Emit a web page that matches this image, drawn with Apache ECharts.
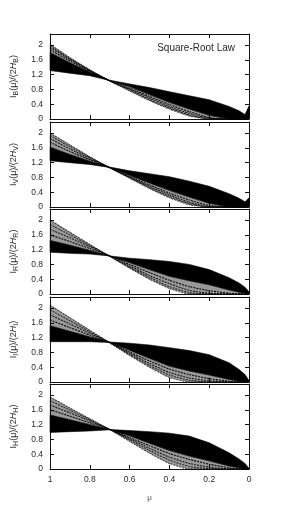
<!DOCTYPE html>
<html>
<head>
<meta charset="utf-8">
<script src="https://cdn.jsdelivr.net/npm/echarts@6/dist/echarts.min.js"></script>
<style>html,body{margin:0;padding:0;background:#fff}#c{width:300px;height:506px}</style>
</head>
<body>
<div id="c"></div>
<script>
// mu grid (x values)
const mu = [1, 0.9, 0.8, 0.7, 0.6, 0.5, 0.4, 0.3, 0.2, 0.1, 0.05, 0.02, 0];
// x tick labels / y tick labels
const xTicks = [1, 0.8, 0.6, 0.4, 0.2, 0];
const yTicks = [0, 0.4, 0.8, 1.2, 1.6, 2];
const bands = ['B', 'V', 'R', 'I', 'H'];

// Panel B
const bFlat = [1.31, 1.24, 1.17, 1.05, 0.95, 0.85, 0.74, 0.63, 0.52, 0.34, 0.22, 0.12, 0.35];
const bCore = [1.80, 1.52, 1.27, 1.04, 0.88, 0.66, 0.45, 0.27, 0.10, 0, 0, 0, 0];
const bE1 = [1.87, 1.57, 1.29, 1.035, 0.84, 0.61, 0.39, 0.20, 0.04, 0, 0, 0, 0];
const bE2 = [1.93, 1.61, 1.31, 1.035, 0.81, 0.57, 0.34, 0.15, 0.02, 0, 0, 0, 0];
const bE3 = [1.97, 1.63, 1.32, 1.03, 0.79, 0.53, 0.30, 0.11, 0, 0, 0, 0, 0];
const bE4 = [2.02, 1.66, 1.33, 1.03, 0.76, 0.50, 0.27, 0.08, 0, 0, 0, 0, 0];
// Panel V
const vFlat = [1.25, 1.20, 1.15, 1.08, 0.98, 0.90, 0.82, 0.70, 0.56, 0.36, 0.24, 0.14, 0.25];
const vCore = [1.62, 1.42, 1.24, 1.07, 0.86, 0.65, 0.45, 0.27, 0.10, 0, 0, 0, 0];
const vE1 = [1.75, 1.50, 1.28, 1.07, 0.83, 0.60, 0.38, 0.19, 0.04, 0, 0, 0, 0];
const vE2 = [1.85, 1.57, 1.31, 1.065, 0.81, 0.56, 0.33, 0.13, 0.01, 0, 0, 0, 0];
const vE3 = [1.93, 1.63, 1.34, 1.06, 0.80, 0.53, 0.29, 0.09, 0, 0, 0, 0, 0];
const vE4 = [2.00, 1.68, 1.36, 1.06, 0.78, 0.50, 0.25, 0.06, 0, 0, 0, 0, 0];
// Panel R
const rFlat = [1.13, 1.10, 1.08, 1.03, 0.97, 0.93, 0.88, 0.80, 0.66, 0.44, 0.30, 0.18, 0.06];
const rCore = [1.45, 1.32, 1.18, 1.03, 0.85, 0.66, 0.48, 0.36, 0.25, 0.11, 0.05, 0.02, 0];
const rE1 = [1.60, 1.42, 1.23, 1.03, 0.80, 0.58, 0.37, 0.20, 0.09, 0.02, 0, 0, 0];
const rE2 = [1.75, 1.52, 1.28, 1.03, 0.76, 0.50, 0.28, 0.10, 0.02, 0, 0, 0, 0];
const rE3 = [1.88, 1.60, 1.31, 1.02, 0.73, 0.45, 0.20, 0.04, 0, 0, 0, 0, 0];
const rE4 = [2.00, 1.67, 1.34, 1.02, 0.70, 0.40, 0.15, 0, 0, 0, 0, 0, 0];
// Panel I
const iFlat = [1.09, 1.09, 1.09, 1.08, 1.05, 1.00, 0.93, 0.85, 0.74, 0.52, 0.34, 0.20, 0.04];
const iCore = [1.52, 1.37, 1.22, 1.07, 0.86, 0.64, 0.43, 0.30, 0.19, 0.07, 0.02, 0, 0];
const iE1 = [1.68, 1.47, 1.27, 1.07, 0.81, 0.57, 0.35, 0.20, 0.09, 0.02, 0, 0, 0];
const iE2 = [1.82, 1.57, 1.32, 1.07, 0.78, 0.50, 0.26, 0.11, 0.03, 0, 0, 0, 0];
const iE3 = [1.95, 1.66, 1.36, 1.06, 0.75, 0.45, 0.19, 0.05, 0, 0, 0, 0, 0];
const iE4 = [2.08, 1.74, 1.40, 1.06, 0.72, 0.40, 0.12, 0, 0, 0, 0, 0, 0];
// Panel H
const hFlat = [0.99, 1.01, 1.03, 1.06, 1.04, 1.01, 0.97, 0.89, 0.71, 0.44, 0.27, 0.15, 0.02];
const hCore = [1.46, 1.33, 1.20, 1.07, 0.90, 0.70, 0.50, 0.35, 0.22, 0.08, 0.03, 0, 0];
const hE1 = [1.60, 1.43, 1.25, 1.07, 0.85, 0.63, 0.42, 0.26, 0.13, 0.03, 0, 0, 0];
const hE2 = [1.73, 1.52, 1.30, 1.07, 0.82, 0.56, 0.32, 0.15, 0.05, 0, 0, 0, 0];
const hE3 = [1.85, 1.59, 1.33, 1.07, 0.79, 0.50, 0.24, 0.07, 0.01, 0, 0, 0, 0];
const hE4 = [1.95, 1.65, 1.36, 1.07, 0.75, 0.43, 0.15, 0, 0, 0, 0, 0, 0];

const panels = [
  {flat: bFlat, core: bCore, edges: [bE1, bE2, bE3, bE4]},
  {flat: vFlat, core: vCore, edges: [vE1, vE2, vE3, vE4]},
  {flat: rFlat, core: rCore, edges: [rE1, rE2, rE3, rE4]},
  {flat: iFlat, core: iCore, edges: [iE1, iE2, iE3, iE4]},
  {flat: hFlat, core: hCore, edges: [hE1, hE2, hE3, hE4]}
];

const tops = [34, 122, 209, 297, 384];
const H = 85;
const font = 'Liberation Sans, Arial, sans-serif';
const txt = '#2a2a2a';

function bandSeries(xi, yi, a, b, fill, z) {
  return {
    type: 'custom', xAxisIndex: xi, yAxisIndex: yi, silent: true, z: z,
    data: [[0.5, 1]],
    renderItem: (params, api) => {
      const up = mu.map((m, k) => api.coord([m, Math.max(a[k], b[k])]));
      const lo = mu.map((m, k) => api.coord([m, Math.min(a[k], b[k])])).reverse();
      return {type: 'polygon', shape: {points: up.concat(lo)},
        style: {fill: fill, stroke: fill, lineWidth: 0.6}};
    }
  };
}

const grid = [], xAxis = [], yAxis = [], series = [];
panels.forEach((p, i) => {
  grid.push({left: 50, right: 51, top: tops[i], height: H, show: false});
  const last = i === panels.length - 1;
  const baseAxisLine = {show: true, onZero: false, lineStyle: {color: '#111', width: 1}};
  const tick = {show: true, inside: true, length: 4, lineStyle: {color: '#111', width: 1}};
  xAxis.push({
    gridIndex: i, type: 'value', min: 0, max: 1, interval: 0.2, inverse: true,
    position: 'bottom', axisLine: baseAxisLine, axisTick: tick, splitLine: {show: false},
    axisLabel: {show: last, fontSize: 8.5, color: txt, fontFamily: font, margin: 6,
      formatter: v => xTicks.includes(+v.toFixed(2)) ? String(+v.toFixed(2)) : ''},
    name: last ? 'μ' : '', nameLocation: 'middle', nameGap: 25,
    nameTextStyle: {fontSize: 8, color: '#555', fontFamily: font}
  });
  xAxis.push({
    gridIndex: i, type: 'value', min: 0, max: 1, interval: 0.2, inverse: true,
    position: 'top', axisLine: baseAxisLine, axisTick: tick, splitLine: {show: false},
    axisLabel: {show: false}
  });
  const b = bands[i];
  yAxis.push({
    gridIndex: i, type: 'value', min: 0, max: 2.3, interval: 0.4,
    position: 'left', axisLine: baseAxisLine, axisTick: tick, splitLine: {show: false},
    axisLabel: {fontSize: 8.5, color: txt, fontFamily: font, margin: 7, showMaxLabel: false,
      formatter: v => yTicks.includes(+v.toFixed(2)) ? String(+v.toFixed(2)) : ''},
    name: '{m|I}{s|' + b + '}{m|(μ)/(2}{it|H}{s|' + b + '}{m|)}',
    nameLocation: 'middle', nameRotate: 90, nameGap: 30,
    nameTextStyle: {
      fontFamily: font, color: txt,
      rich: {
        m: {fontSize: 9, color: txt, fontFamily: font, lineHeight: 13, verticalAlign: 'middle'},
        it: {fontSize: 9, color: txt, fontFamily: font, fontStyle: 'italic', lineHeight: 13, verticalAlign: 'middle'},
        s: {fontSize: 7, color: txt, fontFamily: font, lineHeight: 8, verticalAlign: 'bottom'}
      }
    }
  });
  yAxis.push({
    gridIndex: i, type: 'value', min: 0, max: 2.3, interval: 0.4,
    position: 'right', axisLine: baseAxisLine, axisTick: tick, splitLine: {show: false},
    axisLabel: {show: false}
  });
  const xi = i * 2, yi = i * 2;
  // sparse outer region (core -> outermost curve) as a tone, solid core band in black
  series.push(bandSeries(xi, yi, p.core, p.edges[p.edges.length - 1], 'rgba(0,0,0,0.4)', 2));
  series.push(bandSeries(xi, yi, p.flat, p.core, '#000', 3));
  p.edges.forEach((e, j) => {
    series.push({
      type: 'line', xAxisIndex: xi, yAxisIndex: yi,
      data: mu.map((m, k) => [m, e[k]]), symbol: 'none', smooth: 0.2,
      lineStyle: {width: 1.1, color: '#000', type: [2, 1], opacity: 0.95 - j * 0.12},
      silent: true, z: 4
    });
  });
});

const chart = echarts.init(document.getElementById('c'), null, {renderer: 'canvas'});
chart.setOption({
  animation: false,
  backgroundColor: '#fff',
  title: {
    text: 'Square-Root Law', right: 60, top: 38,
    textStyle: {fontSize: 10, fontWeight: 'normal', color: txt, fontFamily: font}
  },
  grid, xAxis, yAxis, series
});
</script>
</body>
</html>
